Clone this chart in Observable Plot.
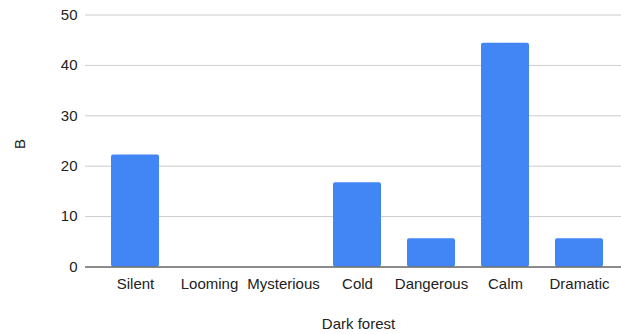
<!DOCTYPE html>
<html>
<head>
<meta charset="utf-8">
<script src="https://cdn.jsdelivr.net/npm/d3@7"></script>
<script src="https://cdn.jsdelivr.net/npm/@observablehq/plot@0.6"></script>
<style>
  html, body { margin: 0; padding: 0; background: #fff; }
  #chart svg { display: block; }
</style>
</head>
<body>
<div id="chart"></div>
<script>
const categories = ["Silent", "Looming", "Mysterious", "Cold", "Dangerous", "Calm", "Dramatic"];
const values = [22.2, 0, 0, 16.7, 5.6, 44.4, 5.6];
const yTicks = [0, 10, 20, 30, 40, 50];
const xTitle = "Dark forest";
const yTitle = "B";

const data = categories.map((c, i) => ({category: c, value: values[i]}));

const chart = Plot.plot({
  width: 621,
  height: 334,
  marginLeft: 85,
  marginRight: 0,
  marginTop: 14.5,
  marginBottom: 67.5,
  style: {fontFamily: "'Liberation Sans', Arial, sans-serif", fontSize: "15px", color: "#222", background: "#fff"},
  x: {domain: categories, paddingInner: 0.35, paddingOuter: 0.293, align: 0.6, label: null},
  y: {domain: [0, 50], ticks: yTicks, label: null},
  marks: [
    Plot.gridY(yTicks, {stroke: "#ccc", strokeOpacity: 1, strokeWidth: 1}),
    Plot.axisY(yTicks, {tickSize: 0, tickPadding: 8, fill: "#222", fontSize: 15}),
    Plot.axisX({tickSize: 0, tickPadding: 11, fill: "#222", fontSize: 15}),
    Plot.barY(data, {x: "category", y: "value", fill: "#4285F4", rx: 2}),
    Plot.ruleY([0], {stroke: "#333", strokeWidth: 1}),
    Plot.text([xTitle], {frameAnchor: "bottom", dy: 62, fill: "#222", fontSize: 15, dx: 5}),
    Plot.text([yTitle], {frameAnchor: "left", dx: -65, dy: 8, rotate: -90, fill: "#222", fontSize: 15})
  ]
});
document.getElementById("chart").appendChild(chart);
</script>
</body>
</html>
